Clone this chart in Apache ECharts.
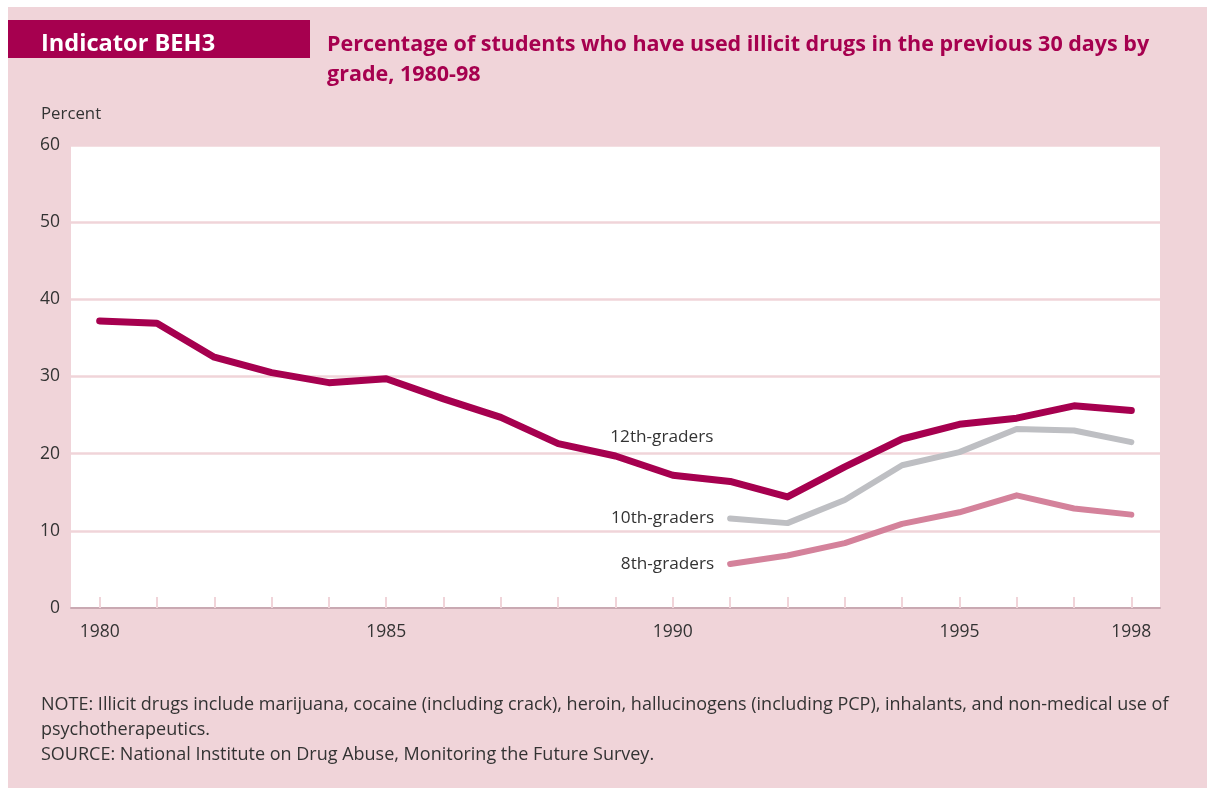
<!DOCTYPE html>
<html><head><meta charset="utf-8">
<script src="https://cdn.jsdelivr.net/npm/echarts@6/dist/echarts.min.js"></script>
<style>html,body{margin:0;padding:0;background:#fff;}#c{width:1207px;height:788px;}</style>
</head><body><div id="c"></div>
<script>
const years = ['1980','1981','1982','1983','1984','1985','1986','1987','1988','1989','1990','1991','1992','1993','1994','1995','1996','1997','1998'];
const shownYears = ['1980','1985','1990','1995','1998'];
const grade12 = [37.2,36.9,32.5,30.5,29.2,29.7,27.1,24.7,21.3,19.7,17.2,16.4,14.4,18.3,21.9,23.8,24.6,26.2,25.6];
const grade10 = [null,null,null,null,null,null,null,null,null,null,null,11.6,11.0,14.0,18.5,20.2,23.2,23.0,21.5];
const grade8  = [null,null,null,null,null,null,null,null,null,null,null,5.7,6.8,8.4,10.9,12.4,14.6,12.9,12.1];
const yTicks = [0,10,20,30,40,50,60];
const seriesNames = ['12th-graders','10th-graders','8th-graders'];
const titleLines = ['Percentage of students who have used illicit drugs in the previous 30 days by','grade, 1980-98'];
const noteLines = ['NOTE: Illicit drugs include marijuana, cocaine (including crack), heroin, hallucinogens (including PCP), inhalants, and non-medical use of','psychotherapeutics.','SOURCE: National Institute on Drug Abuse, Monitoring the Future Survey.'];

const FAM = '"Open Sans", Lato, sans-serif';
const PINK_BG = '#f0d4d9';
const MAG = '#a6004f';

const cv = document.createElement('canvas').getContext('2d');
function fit(text, weight, target){
  cv.font = weight + ' 100px ' + FAM;
  return Math.round(100 * target / cv.measureText(text).width * 10) / 10;
}
const indSize = fit('Indicator BEH3', 'bold', 174);
const titleSize = fit(titleLines[0], 'bold', 823);
const noteSize = fit(noteLines[0], 'normal', 1126);
const pctSize = fit('Percent', 'normal', 60);
const lblSize = fit('12th-graders', 'normal', 103);

const chart = echarts.init(document.getElementById('c'), null, {renderer:'canvas'});

function labelAt(arr, idx, cfg){
  return arr.map((v,i)=> i===idx ? {value:v, label:Object.assign({show:true, formatter:'{a}', fontFamily:FAM, fontSize:lblSize, color:'#333'}, cfg)} : v);
}
const baseSeries = {type:'line', showSymbol:true, symbol:'circle', symbolSize:2, itemStyle:{color:'rgba(0,0,0,0)', borderWidth:0}, label:{show:false}, emphasis:{disabled:true}, labelLayout:{hideOverlap:false}};

chart.setOption({
  backgroundColor:'#ffffff',
  animation:false,
  graphic:[
    {type:'rect', z:-10, shape:{x:8,y:7,width:1199,height:781}, style:{fill:PINK_BG}},
    {type:'rect', z:-9, shape:{x:8,y:20,width:302,height:38}, style:{fill:MAG}},
    {type:'text', x:41, y:44, style:{text:'Indicator BEH3', fill:'#fff', font:'bold '+indSize+'px '+FAM, textVerticalAlign:'middle'}},
    {type:'text', x:327, y:45, style:{text:titleLines[0], fill:MAG, font:'bold '+titleSize+'px '+FAM, textVerticalAlign:'middle'}},
    {type:'text', x:327, y:75, style:{text:titleLines[1], fill:MAG, font:'bold '+titleSize+'px '+FAM, textVerticalAlign:'middle'}},
    {type:'text', x:41, y:114, style:{text:'Percent', fill:'#333', font:pctSize+'px '+FAM, textVerticalAlign:'middle'}},
    {type:'text', x:41, y:705, style:{text:noteLines[0], fill:'#333', font:noteSize+'px '+FAM, textVerticalAlign:'middle'}},
    {type:'text', x:41, y:730, style:{text:noteLines[1], fill:'#333', font:noteSize+'px '+FAM, textVerticalAlign:'middle'}},
    {type:'text', x:41, y:755, style:{text:noteLines[2], fill:'#333', font:noteSize+'px '+FAM, textVerticalAlign:'middle'}}
  ],
  grid:{left:71, right:47, top:145, bottom:180, show:true, backgroundColor:'#fff', borderWidth:0},
  xAxis:{
    type:'category', data:years, boundaryGap:true,
    axisLine:{show:true, lineStyle:{color:'#c9a9b2', width:2}},
    axisTick:{show:true, alignWithLabel:true, inside:true, length:11, lineStyle:{color:PINK_BG, width:2}, interval:0},
    axisLabel:{interval:0, margin:15, fontFamily:FAM, fontSize:17.5, color:'#333', formatter:v=> shownYears.includes(v)? v : ''},
    splitLine:{show:false}
  },
  yAxis:{
    type:'value', min:yTicks[0], max:yTicks[yTicks.length-1], interval:10,
    axisLine:{show:false}, axisTick:{show:false},
    axisLabel:{margin:11, fontFamily:FAM, fontSize:17.5, color:'#333'},
    splitLine:{show:true, lineStyle:{color:PINK_BG, width:2.5}}
  },
  series:[
    Object.assign({}, baseSeries, {name:seriesNames[0], data:labelAt(grade12, 10, {position:'top', distance:29, padding:[0,22,0,0]}), z:5,
     lineStyle:{color:MAG, width:7, cap:'round', join:'round'}}),
    Object.assign({}, baseSeries, {name:seriesNames[1], data:labelAt(grade10, 11, {position:'left', distance:15, padding:[0,0,2,0]}), z:4,
     lineStyle:{color:'#bebfc3', width:6, cap:'round', join:'round'}}),
    Object.assign({}, baseSeries, {name:seriesNames[2], data:labelAt(grade8, 11, {position:'left', distance:15, padding:[0,0,0,0]}), z:3,
     lineStyle:{color:'#d4829b', width:6, cap:'round', join:'round'}})
  ]
});
</script></body></html>
